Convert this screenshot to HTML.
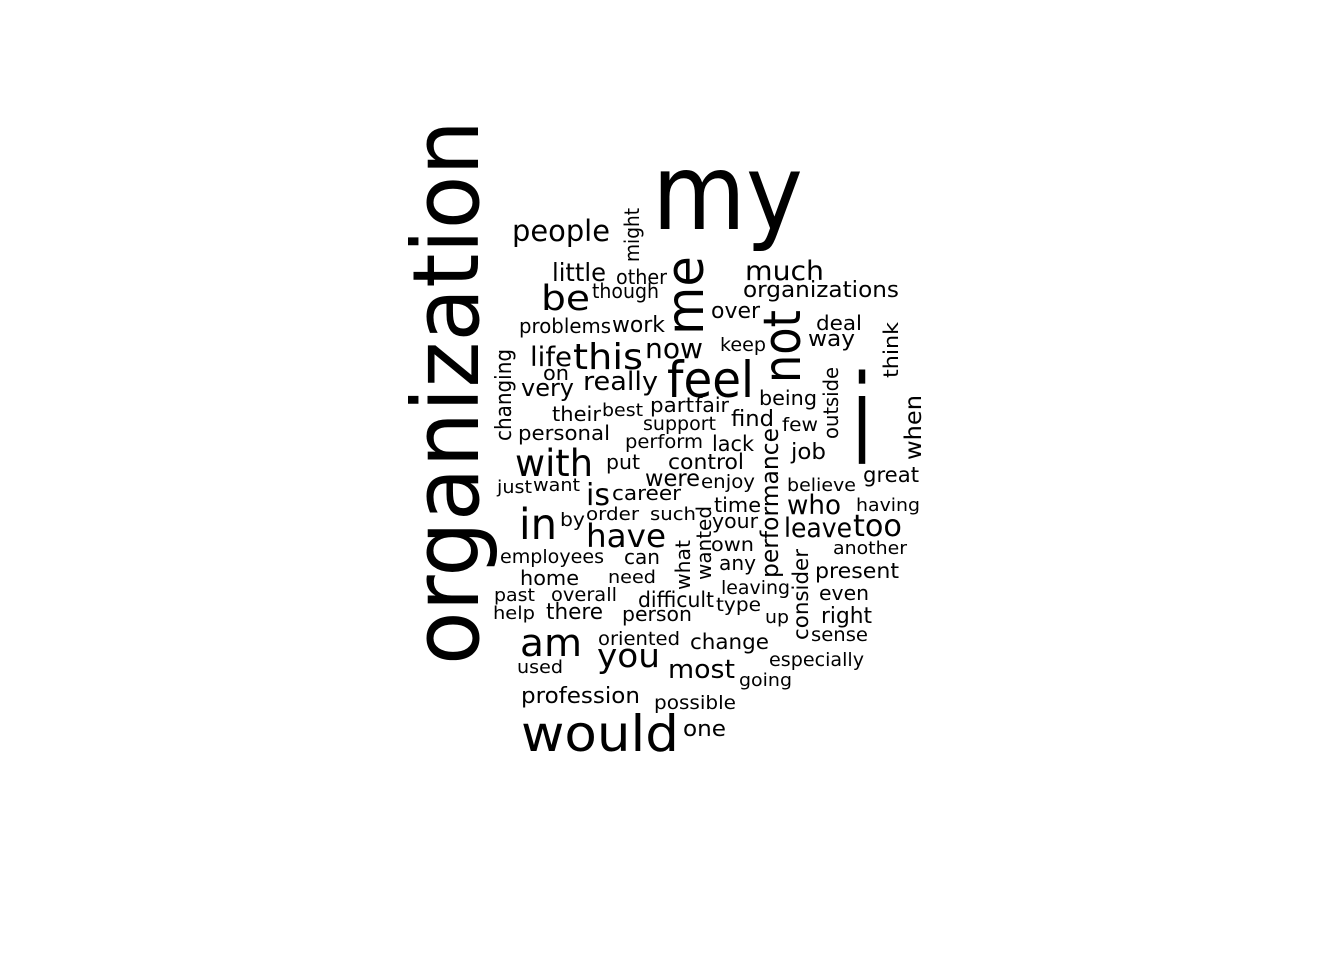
<!DOCTYPE html>
<html><head><meta charset="utf-8"><style>
html,body{margin:0;padding:0;background:#fff;}
svg{display:block;}
text{font-family:"DejaVu Sans","Liberation Sans",sans-serif;fill:#000;}
</style></head><body>
<svg id="cloud" width="1344" height="960" viewBox="0 0 1344 960" xmlns="http://www.w3.org/2000/svg">
<rect width="1344" height="960" fill="#fff"/>
</svg>
<script>
// words, font sizes, ink length, and layout (left/baseline x, baseline/start y, rotated flag)
const words = ["my","people","little","other","though","be","problems","work","much","organizations","over","keep","deal","way","life","this","now","feel","on","really","very","being","their","best","part","fair","find","few","support","personal","perform","lack","job","with","put","control","great","were","enjoy","believe","just","want","is","career","time","who","having","in","by","order","such","your","have","leave","too","employees","can","own","another","any","home","need","present","past","overall","leaving","even","difficult","type","help","there","person","up","right","am","oriented","change","sense","you","most","especially","used","going","profession","possible","would","one","i",
"organization","might","me","not","changing","outside","think","when","performance","wanted","what","consider"];
const sizes = [105,29,25,20,20,35,20,22,27,22,22,19,20,22,27,36,28,50,20,26,24,20,20,18,20,20,22,19,19,20,19,21,22,37,20,21,21,23,19,18,18,18,30,20,20,27,18,43,19,18,18,20,32,27,30,19,20,19,18,20,20,18,21,18,19,19,20,21,19,18,22,20,18,22,38,19,21,19,33,26,19,18,18,22,19,50,22,124,
92,20,52,52,22,20,20,23,24,20,20,21];
const lengths = [151,98,54,51,67,49,92,53,79,156,49,46,46,47,42,70,58,87,26,75,53,58,49,41,44,34,43,36,73,92,78,42,35,78,34,76,56,55,54,69,35,47,24,69,47,54,64,38,25,53,46,46,80,68,49,104,36,43,74,37,59,48,84,41,66,69,50,76,45,42,57,70,24,51,62,82,79,57,63,67,95,46,53,119,82,158,43,20,
545,54,79,73,92,72,56,65,150,74,50,91];
const posX = [652,512,552,616,592,541,519,612,745,743,711,720,816,808,530,573,645,667,543,583,521,759,552,602,650,695,731,782,643,518,625,712,791,515,606,668,863,645,701,787,497,533,586,612,714,787,856,519,560,586,650,712,586,784,853,500,624,711,833,719,520,608,815,494,551,721,819,638,716,493,546,622,765,821,520,598,690,811,597,668,769,517,739,521,654,521,683,852,
478,639,703,800,511,838,898,921,778,711,690,808];
const posY = [229,241,281,284,298,310,333,332,280,297,318,351,330,346,366,369,358,397,380,390,396,405,421,416,412,412,426,431,430,440,448,451,459,476,469,469,482,486,488,491,493,491,505,500,512,514,511,539,526,520,520,528,547,537,536,563,564,551,554,570,585,583,578,601,601,594,600,607,611,619,619,621,623,623,656,645,649,641,667,678,666,673,686,703,709,751,736,464,
665,262,335,383,441,439,378,460,578,580,590,640];
const vertical = [0,0,0,0,0,0,0,0,0,0,0,0,0,0,0,0,0,0,0,0,0,0,0,0,0,0,0,0,0,0,0,0,0,0,0,0,0,0,0,0,0,0,0,0,0,0,0,0,0,0,0,0,0,0,0,0,0,0,0,0,0,0,0,0,0,0,0,0,0,0,0,0,0,0,0,0,0,0,0,0,0,0,0,0,0,0,0,0,
1,1,1,1,1,1,1,1,1,1,1,1];

const svg = document.getElementById('cloud');
const NS = 'http://www.w3.org/2000/svg';
for (let i = 0; i < words.length; i++) {
  const t = document.createElementNS(NS, 'text');
  
  
  t.setAttribute('x', posX[i]);
  t.setAttribute('y', posY[i]);
  t.setAttribute('font-size', sizes[i]);
  t.setAttribute('textLength', lengths[i]);
  t.setAttribute('lengthAdjust', 'spacingAndGlyphs');
  if (vertical[i]) {
    t.setAttribute('transform', 'rotate(-90 ' + posX[i] + ' ' + posY[i] + ')');
  }
  t.textContent = words[i];
  svg.appendChild(t);
}
</script>
</body></html>
